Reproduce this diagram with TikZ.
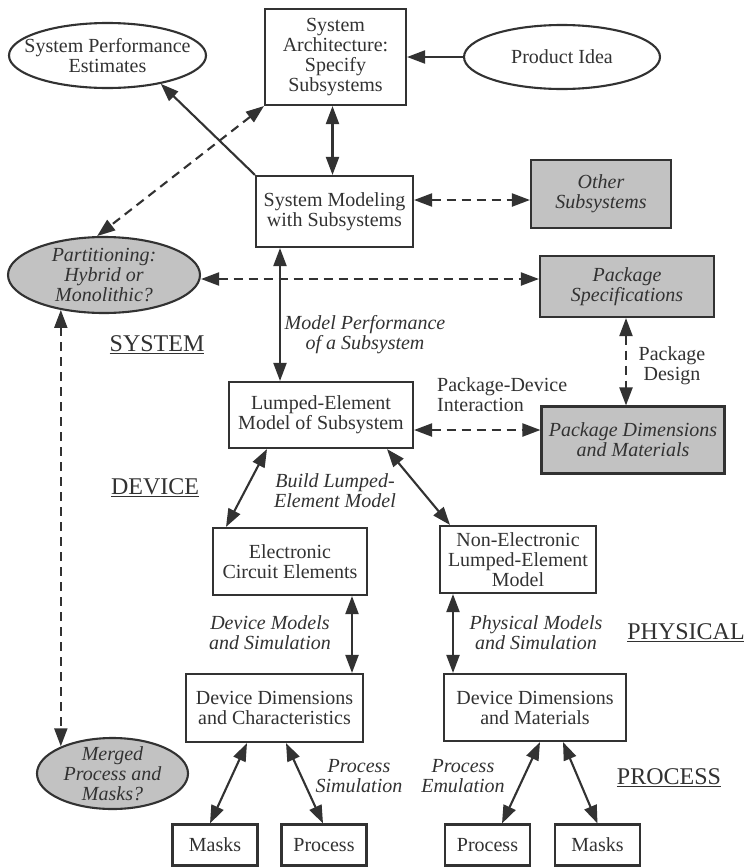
\documentclass[tikz,border=0pt]{standalone}
\usepackage{fontspec}
\setmainfont{Liberation Serif}
\usetikzlibrary{arrows.meta,shapes.geometric}
\definecolor{ink}{RGB}{50,50,50}
\definecolor{shade}{RGB}{194,194,194}
\begin{document}
\begin{tikzpicture}[x=1pt,y=-1pt,
  every node/.style={text=ink, font=\fontsize{20}{20}\selectfont},
  box/.style={draw=ink, line width=2.1pt, rectangle, inner sep=0pt, align=center},
  gbox/.style={box, fill=shade, font=\fontsize{20}{20}\selectfont\itshape},
  oval/.style={draw=ink, line width=2.1pt, ellipse, inner sep=0pt},
  goval/.style={oval, fill=shade},
  etxt/.style={align=center, inner sep=0pt},
  getxt/.style={etxt, font=\fontsize{20}{20}\selectfont\itshape},
  lbl/.style={align=center, inner sep=0pt, font=\fontsize{20}{20}\selectfont\itshape},
  plbl/.style={align=center, inner sep=0pt},
  lvl/.style={inner sep=0pt, font=\fontsize{24}{24}\selectfont},
  con/.style={draw=ink, line width=2.1pt, {Triangle[length=18pt,width=13pt]}-{Triangle[length=18pt,width=13pt]}},
  one/.style={draw=ink, line width=2.1pt, -{Triangle[length=18pt,width=13pt]}},
  dcon/.style={con, dash pattern=on 9pt off 6pt},
]
\fill[white] (0,0) rectangle (744,868);
\useasboundingbox (0,0) rectangle (744,868);

% nodes
\node[box, minimum width=141pt, minimum height=96pt] (arch) at (335.5,57) {System\\Architecture:\\Specify\\Subsystems};
\node[oval, minimum width=197pt, minimum height=65pt,
  label={[etxt]center:{System Performance\\Estimates}}] (perf) at (107.5,55.5) {};
\node[oval, minimum width=196pt, minimum height=64pt,
  label={[etxt]center:{Product Idea}}] (idea) at (562,57) {};
\node[box, minimum width=157pt, minimum height=71pt] (model) at (334.5,211.5) {System Modeling\\with Subsystems};
\node[gbox, minimum width=140pt, minimum height=68pt] (other) at (601,194) {Other\\Subsystems};
\node[goval, minimum width=192pt, minimum height=76pt,
  label={[getxt]center:{Partitioning:\\Hybrid or\\Monolithic?}}] (part) at (104,275) {};
\node[gbox, minimum width=174pt, minimum height=61pt] (pspec) at (627,286.5) {Package\\Specifications};
\node[box, minimum width=184pt, minimum height=66pt] (lump) at (321,415) {Lumped-Element\\Model of Subsystem};
\node[gbox, minimum width=183pt, minimum height=67pt] (pdim) at (633,440) {Package Dimensions\\and Materials};
\node[box, minimum width=154pt, minimum height=67pt] (elec) at (290,561.5) {Electronic\\Circuit Elements};
\node[box, minimum width=156pt, minimum height=67pt] (nonel) at (518,559.5) {Non-Electronic\\Lumped-Element\\Model};
\node[box, minimum width=177pt, minimum height=68pt] (ddc) at (274.5,708) {Device Dimensions\\and Characteristics};
\node[box, minimum width=182pt, minimum height=67pt] (ddm) at (535,707.5) {Device Dimensions\\and Materials};
\node[goval, minimum width=151pt, minimum height=71pt,
  label={[getxt]center:{Merged\\Process and\\Masks?}}] (merged) at (112.5,773.5) {};
\node[box, minimum width=85pt, minimum height=41pt] (mask1) at (215,845) {Masks};
\node[box, minimum width=85pt, minimum height=41pt] (proc1) at (324,845) {Process};
\node[box, minimum width=85pt, minimum height=41pt] (proc2) at (487.5,845) {Process};
\node[box, minimum width=85pt, minimum height=41pt] (mask2) at (597.5,845) {Masks};

% labels
\node[lbl] (lmp) at (365,335) {Model Performance\\of a Subsystem};
\node[lvl] (lsys) at (157,345) {\underline{SYSTEM}};
\node[plbl] (lpd) at (672,366) {Package\\Design};
\node[plbl, align=left, anchor=west] (lpdi) at (437,395) {Package-Device\\Interaction};
\node[lvl] (ldev) at (155,488) {\underline{DEVICE}};
\node[lbl] (lblm) at (335,491) {Build Lumped-\\Element Model};
\node[lbl] (ldms) at (270,633) {Device Models\\and Simulation};
\node[lbl] (lpms) at (536,633) {Physical Models\\and Simulation};
\node[lvl] (lphy) at (686,633) {\underline{PHYSICAL}};
\node[lbl] (lps) at (359,776) {Process\\Simulation};
\node[lbl] (lpe) at (463,776) {Process\\Emulation};
\node[lvl] (lproc) at (669,778) {\underline{PROCESS}};

% connectors
\draw[one] (idea.west) -- (arch.east);
\draw[con] ([xshift=-3pt]arch.south) -- ([xshift=-2pt]model.north);
\draw[one] (model.north west) -- (perf.332);
\draw[dcon] (arch.south west) -- (part.100);
\draw[dcon] ([yshift=11.5pt]model.east) -- ([yshift=-6pt]other.west);
\draw[dcon] ([yshift=-4pt]part.east) -- ([yshift=7.5pt]pspec.west);
\draw[con] ([xshift=-54.5pt]model.south) -- ([xshift=-41pt]lump.north);
\draw[dcon] ([xshift=-1pt]pspec.south) -- ([xshift=-7pt]pdim.north);
\draw[dcon] ([yshift=-15pt]lump.east) -- ([yshift=10pt]pdim.west);
\draw[con] ([xshift=-54pt]lump.south) -- ([xshift=-64pt]elec.north);
\draw[con] ([xshift=66pt]lump.south) -- ([xshift=-68pt]nonel.north);
\draw[con] ([xshift=62pt]elec.south) -- ([xshift=77.5pt]ddc.north);
\draw[con] ([xshift=-65pt]nonel.south) -- ([xshift=-82pt]ddm.north);
\draw[con] ([xshift=-27.5pt]ddc.south) -- ([xshift=-5pt]mask1.north);
\draw[con] ([xshift=11.5pt]ddc.south) -- ([xshift=-1pt]proc1.north);
\draw[con] ([xshift=5pt]ddm.south) -- ([xshift=14.5pt]proc2.north);
\draw[con] ([xshift=28pt]ddm.south) -- (mask2.north);
\draw[dcon] (part.219) -- (part.219 |- merged.152);
\end{tikzpicture}
\end{document}
